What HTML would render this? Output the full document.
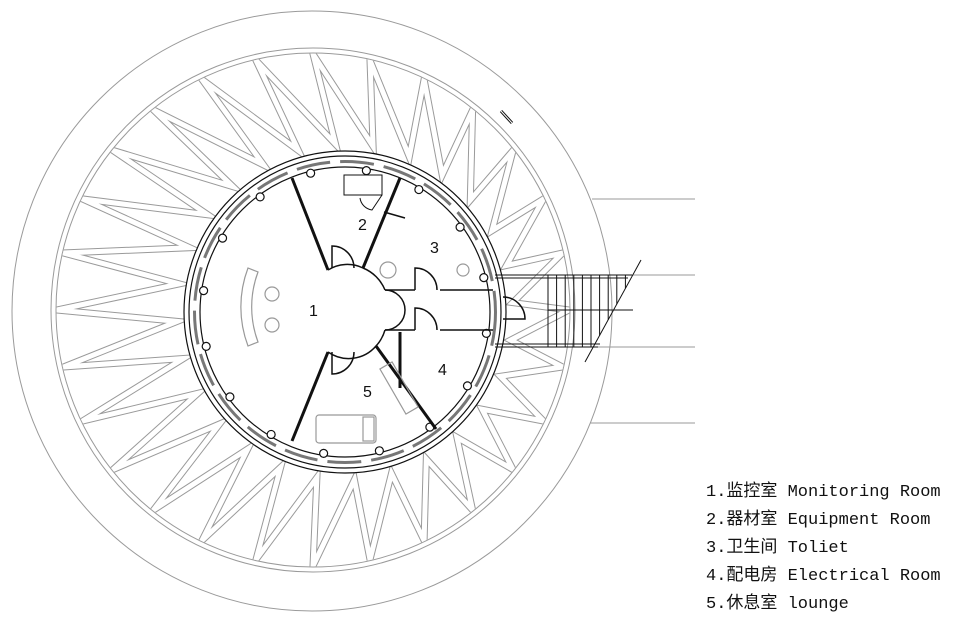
<!DOCTYPE html>
<html><head><meta charset="utf-8">
<style>
html,body{margin:0;padding:0;background:#fff;width:960px;height:625px;overflow:hidden}
svg{position:absolute;left:0;top:0}
.leg{position:absolute;left:706px;font-family:"Liberation Mono","Noto Sans CJK SC",monospace;font-size:17px;color:#111;white-space:pre;line-height:20px}
</style></head><body>
<svg id="s" width="960" height="625" viewBox="0 0 960 625" xmlns="http://www.w3.org/2000/svg">
<defs><clipPath id="cp"><circle cx="313" cy="310" r="256.5"/></clipPath></defs>
<g fill="none" stroke="#9a9a9a" stroke-width="1">
<circle cx="312" cy="311" r="300"/>
<circle cx="313" cy="310" r="262"/>
<circle cx="313" cy="310" r="257"/>
<line x1="592" y1="199" x2="695" y2="199"/>
<line x1="600" y1="275" x2="695" y2="275"/>
<line x1="598" y1="347" x2="695" y2="347"/>
<line x1="590" y1="423" x2="695" y2="423"/>
</g>
<g id="spk" fill="none" stroke-linejoin="miter" stroke-miterlimit="30" clip-path="url(#cp)"></g>
<g fill="none" stroke="#111">
<circle cx="345" cy="312" r="161" fill="#fff" stroke-width="1.2"/>
<circle cx="345" cy="312" r="156" stroke-width="1.2"/>
<circle cx="345" cy="312" r="150.5" stroke="#777" stroke-width="3" stroke-dasharray="34 10"/>
<circle cx="345" cy="312" r="145" stroke-width="1.2"/>
<g id="cols"></g>
<g stroke-width="3">
<line x1="292" y1="178" x2="328" y2="270"/>
<line x1="400" y1="178" x2="363" y2="268"/>
<line x1="328" y1="352" x2="292" y2="441"/>
<line x1="376" y1="346" x2="436" y2="429"/>
<line x1="400" y1="332" x2="400" y2="388"/>
</g>
<g stroke-width="1.5">
<line x1="385" y1="290" x2="415" y2="290"/><line x1="440" y1="290" x2="493" y2="290"/>
<line x1="385" y1="330" x2="415" y2="330"/><line x1="440" y1="330" x2="493" y2="330"/>
<path d="M328,270 A36,36 0 0 1 363,268 A40,40 0 0 1 385,290"/>
<path d="M385,330 A40,40 0 0 1 376,346 A36,36 0 0 1 328,352"/>
<path d="M332,268 v-22 a22,22 0 0 1 22,22"/>
<path d="M332,352 v22 a22,22 0 0 0 22,-22"/>
<path d="M415,290 v-22 a22,22 0 0 1 22,22"/>
<path d="M415,330 v-22 a22,22 0 0 1 22,22"/>
<path d="M385,290 a20,20 0 0 1 0,40"/>
<path d="M503,297 a22,22 0 0 1 22,22 h-22"/>
<rect x="344" y="175" width="38" height="20" stroke-width="1"/>
<path d="M360,198 a14,14 0 0 0 12,12 l10,-15" stroke-width="1"/>
<line x1="384" y1="212" x2="405" y2="218"/>
</g>
<g stroke="#999" stroke-width="1.2">
<path d="M248,268 a110,110 0 0 0 0,78 l10,-4 a100,100 0 0 1 0,-70z"/>
<circle cx="272" cy="294" r="7"/><circle cx="272" cy="325" r="7"/>
<rect x="316" y="415" width="60" height="28" rx="3"/>
<rect x="363" y="417" width="11" height="24"/>
<rect x="392" y="362" width="14" height="52" transform="rotate(-30 399 388)"/>
<circle cx="388" cy="270" r="8"/>
<circle cx="463" cy="270" r="6"/>
</g>
<g stroke-width="1">
<line x1="495" y1="275" x2="632" y2="275"/><line x1="495" y1="278" x2="628" y2="278"/>
<line x1="495" y1="347" x2="598" y2="347"/><line x1="495" y1="344" x2="600" y2="344"/>
<line x1="548" y1="310" x2="633" y2="310"/>
<line x1="641" y1="260" x2="585" y2="362"/>
<g id="st"></g>
</g>
<line x1="501" y1="111" x2="512" y2="123" stroke-width="3"/>
<line x1="501" y1="111" x2="512" y2="123" stroke="#fff" stroke-width="1"/>
</g>
<g font-family="Liberation Sans,sans-serif" font-size="16" fill="#111">
<text x="309" y="316">1</text><text x="358" y="230">2</text><text x="430" y="253">3</text>
<text x="438" y="375">4</text><text x="363" y="397">5</text>
</g>
</svg>
<div class="leg" style="top:483px">1.监控室 Monitoring Room</div>
<div class="leg" style="top:511px">2.器材室 Equipment Room</div>
<div class="leg" style="top:539px">3.卫生间 Toliet</div>
<div class="leg" style="top:567px">4.配电房 Electrical Room</div>
<div class="leg" style="top:595px">5.休息室 lounge</div>
<script>
var NS="http://www.w3.org/2000/svg";
function el(p,t,a){var e=document.createElementNS(NS,t);for(var k in a)e.setAttribute(k,a[k]);p.appendChild(e);return e;}
var g=document.getElementById("spk");
var N=28, st=2*Math.PI/N;
function O(a){var r=256;return [313+r*Math.cos(a),310+r*Math.sin(a)];}
function I(a){var r=168;return [345+r*Math.cos(a),312+r*Math.sin(a)];}
var d="";
for(var i=0;i<N;i++){
 var a=i*st;
 var o=O(a), n=I(a+st*0.75);
 d+=(i?"L":"M")+o[0].toFixed(1)+","+o[1].toFixed(1)+"L"+n[0].toFixed(1)+","+n[1].toFixed(1);
}
d+="Z";
el(g,"path",{d:d,stroke:"#9a9a9a","stroke-width":7});
el(g,"path",{d:d,stroke:"#fff","stroke-width":5});
var c=document.getElementById("cols");
for(var i=0;i<16;i++){var a=i*2*Math.PI/16+0.15;
 el(c,"circle",{cx:345+143*Math.cos(a),cy:312+143*Math.sin(a),r:4,fill:"#fff","stroke-width":1.2});}
var s=document.getElementById("st");
for(var x=548;x<630;x+=8.6){var ye=362-(x-585)*102/56;
 if(ye<278)continue; el(s,"line",{x1:x,y1:275,x2:x,y2:Math.min(ye,347)});}
</script>
</body></html>
